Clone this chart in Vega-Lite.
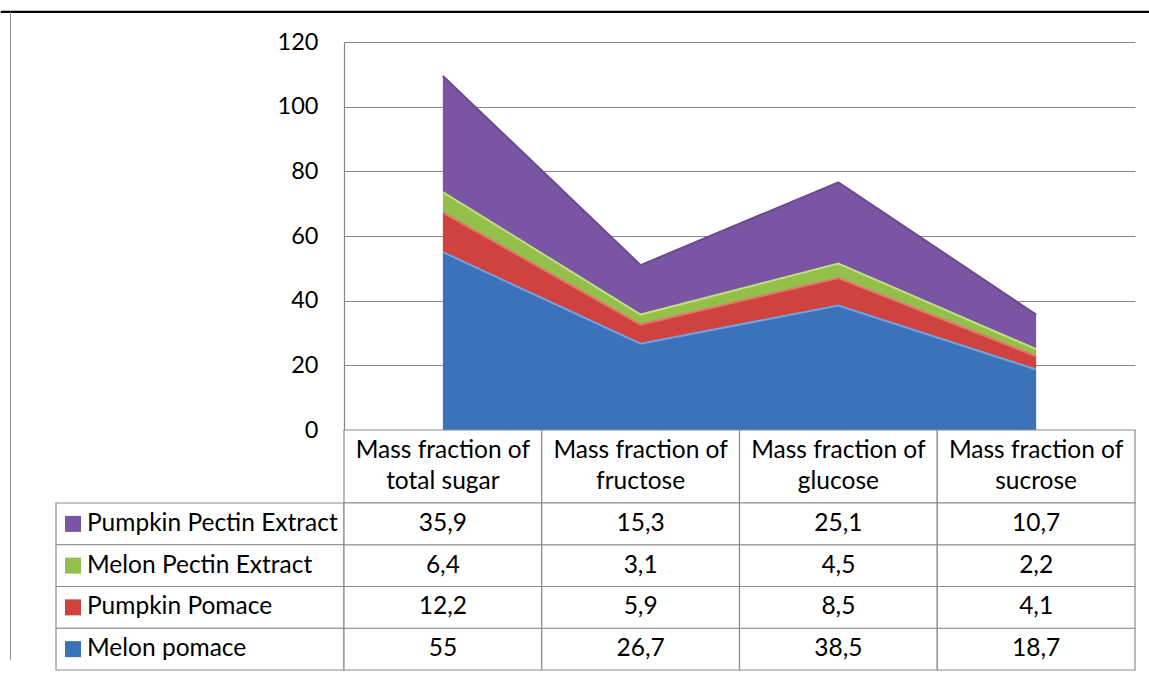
{
  "$schema": "https://vega.github.io/schema/vega-lite/v6.json",
  "padding": {"left": 0, "top": 10, "right": 0, "bottom": 0},
  "background": "white",
  "config": {
    "font": "Lato",
    "view": {"stroke": null},
    "locale": {"number": {"decimal": ",", "thousands": " ", "grouping": [3], "currency": ["", ""]}},
    "concat": {"spacing": 0}
  },
  "datasets": {
    "sugars": [
      {"category": "Mass fraction of\ntotal sugar", "series": "Melon pomace", "value": 55},
      {"category": "Mass fraction of\nfructose", "series": "Melon pomace", "value": 26.7},
      {"category": "Mass fraction of\nglucose", "series": "Melon pomace", "value": 38.5},
      {"category": "Mass fraction of\nsucrose", "series": "Melon pomace", "value": 18.7},
      {"category": "Mass fraction of\ntotal sugar", "series": "Pumpkin Pomace", "value": 12.2},
      {"category": "Mass fraction of\nfructose", "series": "Pumpkin Pomace", "value": 5.9},
      {"category": "Mass fraction of\nglucose", "series": "Pumpkin Pomace", "value": 8.5},
      {"category": "Mass fraction of\nsucrose", "series": "Pumpkin Pomace", "value": 4.1},
      {"category": "Mass fraction of\ntotal sugar", "series": "Melon Pectin Extract", "value": 6.4},
      {"category": "Mass fraction of\nfructose", "series": "Melon Pectin Extract", "value": 3.1},
      {"category": "Mass fraction of\nglucose", "series": "Melon Pectin Extract", "value": 4.5},
      {"category": "Mass fraction of\nsucrose", "series": "Melon Pectin Extract", "value": 2.2},
      {"category": "Mass fraction of\ntotal sugar", "series": "Pumpkin Pectin Extract", "value": 35.9},
      {"category": "Mass fraction of\nfructose", "series": "Pumpkin Pectin Extract", "value": 15.3},
      {"category": "Mass fraction of\nglucose", "series": "Pumpkin Pectin Extract", "value": 25.1},
      {"category": "Mass fraction of\nsucrose", "series": "Pumpkin Pectin Extract", "value": 10.7}
    ],
    "categories": [
      {"category": "Mass fraction of\ntotal sugar"},
      {"category": "Mass fraction of\nfructose"},
      {"category": "Mass fraction of\nglucose"},
      {"category": "Mass fraction of\nsucrose"}
    ],
    "seriesList": [
      {"series": "Pumpkin Pectin Extract"},
      {"series": "Melon Pectin Extract"},
      {"series": "Pumpkin Pomace"},
      {"series": "Melon pomace"}
    ],
    "empty": []
  },
  "bounds": "flush",
  "spacing": 0,
  "vconcat": [
    {
      "width": 1149, "height": 1,
      "data": {"name": "empty"},
      "mark": "rect",
      "encoding": {},
      "view": {"fill": "#000000", "stroke": "#000000", "strokeWidth": 1.2}
    },
    {
      "bounds": "flush",
      "spacing": 0,
      "hconcat": [
        {
          "width": 9, "height": 1,
          "data": {"name": "empty"},
          "mark": "rect",
          "encoding": {}
        },
        {
          "width": 1, "height": 648,
          "data": {"name": "empty"},
          "mark": "rect",
          "encoding": {},
          "view": {"fill": "#8f8f8f", "stroke": null}
        },
        {
          "width": 45, "height": 1,
          "data": {"name": "empty"},
          "mark": "rect",
          "encoding": {}
        },
        {
          "columns": 2,
          "align": "each",
          "bounds": "flush",
          "spacing": 0,
          "concat": [
            {"width": 288, "height": 30, "data": {"name": "empty"}, "mark": "rect", "encoding": {}},
            {"width": 791, "height": 30, "data": {"name": "empty"}, "mark": "rect", "encoding": {}},
            {"width": 288, "height": 388, "data": {"name": "empty"}, "mark": "rect", "encoding": {}},
            {
              "width": 791, "height": 388,
              "data": {"name": "sugars"},
              "transform": [
                {"calculate": "indexof(['Melon pomace','Pumpkin Pomace','Melon Pectin Extract','Pumpkin Pectin Extract'], datum.series)", "as": "stackOrder"}
              ],
              "encoding": {
                "x": {
                  "field": "category", "type": "nominal",
                  "sort": ["Mass fraction of\ntotal sugar", "Mass fraction of\nfructose", "Mass fraction of\nglucose", "Mass fraction of\nsucrose"],
                  "scale": {"type": "point", "padding": 0.5},
                  "axis": null
                },
                "y": {
                  "field": "value", "type": "quantitative", "stack": "zero",
                  "scale": {"domain": [0, 120], "nice": false},
                  "axis": {
                    "values": [0, 20, 40, 60, 80, 100, 120],
                    "title": null,
                    "grid": true, "gridColor": "#878787", "gridWidth": 1.2,
                    "domain": true, "domainColor": "#878787", "domainWidth": 1.2,
                    "ticks": false,
                    "labelFontSize": 23.5, "labelColor": "#000000", "labelPadding": 26,
                    "labelFont": "Lato"
                  }
                },
                "order": {"field": "stackOrder", "type": "quantitative", "sort": "ascending"}
              },
              "layer": [
                {
                  "mark": {"type": "area", "opacity": 1},
                  "encoding": {
                    "color": {
                      "field": "series", "type": "nominal",
                      "scale": {
                        "domain": ["Melon pomace", "Pumpkin Pomace", "Melon Pectin Extract", "Pumpkin Pectin Extract"],
                        "range": ["#3C72B9", "#CF423E", "#94BF4A", "#7955A3"]
                      },
                      "legend": null
                    }
                  }
                },
                {
                  "mark": {"type": "line", "strokeWidth": 2, "strokeJoin": "miter"},
                  "encoding": {
                    "detail": {"field": "series", "type": "nominal"},
                    "stroke": {
                      "field": "series", "type": "nominal",
                      "scale": {
                        "domain": ["Melon pomace", "Pumpkin Pomace", "Melon Pectin Extract", "Pumpkin Pectin Extract"],
                        "range": ["#6FA3E6", "#E8736E", "#C0E07E", "#6A4A93"]
                      },
                      "legend": null
                    }
                  }
                }
              ]
            },
            {"width": 288, "height": 73, "data": {"name": "empty"}, "mark": "rect", "encoding": {}},
            {
              "width": 791, "height": 73,
              "data": {"name": "categories"},
              "layer": [
                {
                  "mark": {"type": "rect", "fill": "white", "stroke": "#8c8c8c", "strokeWidth": 1.2},
                  "encoding": {
                    "x": {"field": "category", "type": "nominal", "sort": null, "scale": {"paddingInner": 0, "paddingOuter": 0}, "axis": null}
                  }
                },
                {
                  "mark": {"type": "text", "fontSize": 24.5, "lineBreak": "\n", "lineHeight": 31, "baseline": "middle", "dy": -16, "color": "#000000"},
                  "encoding": {
                    "x": {"field": "category", "type": "nominal", "sort": null, "axis": null},
                    "text": {"field": "category"}
                  }
                }
              ]
            },
            {
              "width": 288, "height": 167,
              "data": {"name": "seriesList"},
              "layer": [
                {
                  "mark": {"type": "rect", "fill": "white", "stroke": "#8c8c8c", "strokeWidth": 1.2},
                  "encoding": {
                    "y": {"field": "series", "type": "nominal", "sort": null, "scale": {"paddingInner": 0, "paddingOuter": 0}, "axis": null}
                  }
                },
                {
                  "mark": {"type": "point", "shape": "square", "filled": true, "size": 256, "opacity": 1},
                  "encoding": {
                    "x": {"value": 17},
                    "y": {"field": "series", "type": "nominal", "sort": null, "axis": null},
                    "color": {
                      "field": "series", "type": "nominal", "legend": null,
                      "scale": {
                        "domain": ["Melon pomace", "Pumpkin Pomace", "Melon Pectin Extract", "Pumpkin Pectin Extract"],
                        "range": ["#3C72B9", "#CF423E", "#94BF4A", "#7955A3"]
                      }
                    }
                  }
                },
                {
                  "mark": {"type": "text", "fontSize": 24.5, "align": "left", "baseline": "middle", "color": "#000000"},
                  "encoding": {
                    "x": {"value": 31},
                    "y": {"field": "series", "type": "nominal", "sort": null, "axis": null},
                    "text": {"field": "series"}
                  }
                }
              ]
            },
            {
              "width": 791, "height": 167,
              "data": {"name": "sugars"},
              "layer": [
                {
                  "mark": {"type": "rect", "fill": "white", "stroke": "#8c8c8c", "strokeWidth": 1.2},
                  "encoding": {
                    "x": {"field": "category", "type": "nominal", "sort": ["Mass fraction of\ntotal sugar", "Mass fraction of\nfructose", "Mass fraction of\nglucose", "Mass fraction of\nsucrose"], "scale": {"paddingInner": 0, "paddingOuter": 0}, "axis": null},
                    "y": {"field": "series", "type": "nominal", "sort": ["Pumpkin Pectin Extract", "Melon Pectin Extract", "Pumpkin Pomace", "Melon pomace"], "scale": {"paddingInner": 0, "paddingOuter": 0}, "axis": null}
                  }
                },
                {
                  "mark": {"type": "text", "fontSize": 24.5, "baseline": "middle", "color": "#000000"},
                  "encoding": {
                    "x": {"field": "category", "type": "nominal", "sort": ["Mass fraction of\ntotal sugar", "Mass fraction of\nfructose", "Mass fraction of\nglucose", "Mass fraction of\nsucrose"], "axis": null},
                    "y": {"field": "series", "type": "nominal", "sort": ["Pumpkin Pectin Extract", "Melon Pectin Extract", "Pumpkin Pomace", "Melon pomace"], "axis": null},
                    "text": {"field": "value", "type": "quantitative", "format": ".3~g"}
                  }
                }
              ]
            }
          ]
        }
      ]
    }
  ]
}
